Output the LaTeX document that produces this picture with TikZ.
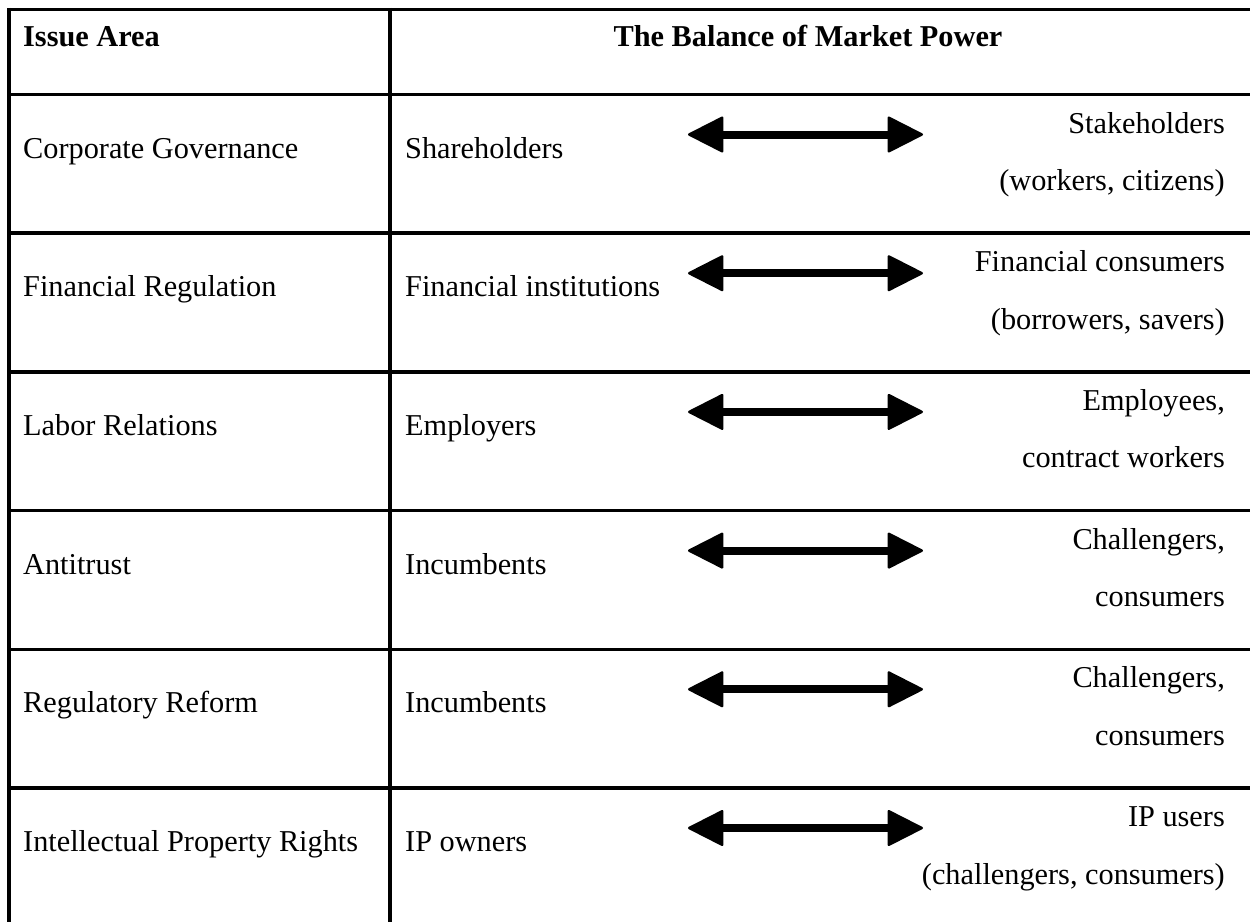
\documentclass[tikz,border=0pt]{standalone}
\usepackage{fontspec}
\setmainfont{Liberation Serif}
\usetikzlibrary{arrows.meta}
\newcommand{\mkrow}[6]{%
  \node[txt, anchor=base west] (area#1) at (23,#2+63.5) {#3};
  \node[txt, anchor=base west] (lft#1) at (405,#2+63.5) {#4};
  \node[txt, anchor=base east] (rta#1) at (1225,#2+38.5) {#5};
  \node[txt, anchor=base east] (rtb#1) at (1225,#2+96) {#6};
  \coordinate (al#1) at (688,#2+40);
  \coordinate (ar#1) at (923,#2+40);
  \draw[balance] (al#1) -- (ar#1);
}
\begin{document}
\begin{tikzpicture}[x=1pt,y=-1pt,
  grid/.style={line width=3.5pt, black},
  txt/.style={inner sep=0pt, font=\fontsize{30.3}{36}\selectfont},
  hdr/.style={inner sep=0pt, font=\fontsize{30.3}{36}\selectfont\bfseries},
  balance/.style={line width=8pt, {Triangle[length=37pt,width=37pt,round,line width=2.5pt]}-{Triangle[length=37pt,width=37pt,round,line width=2.5pt]}},
]
\useasboundingbox (0,0) rectangle (1250,922);
% grid
\foreach \yy in {9.5,94.5,233.2,371.9,510.6,649.3,788.0}
  \draw[grid] (7.25,\yy) -- (1250,\yy);
\draw[grid] (9,7.75) -- (9,922);
\draw[grid] (390,7.75) -- (390,922);
% header
\node[hdr, anchor=base west] (h1) at (23,46) {Issue Area};
\node[hdr, anchor=base] (h2) at (808,46) {The Balance of Market Power};
% rows
\mkrow{1}{94.5}{Corporate Governance}{Shareholders}{Stakeholders}{(workers, citizens)}
\mkrow{2}{233.2}{Financial Regulation}{Financial institutions}{Financial consumers}{(borrowers, savers)}
\mkrow{3}{371.9}{Labor Relations}{Employers}{Employees,}{contract workers}
\mkrow{4}{510.6}{Antitrust}{Incumbents}{Challengers,}{consumers}
\mkrow{5}{649.3}{Regulatory Reform}{Incumbents}{Challengers,}{consumers}
\mkrow{6}{788.0}{Intellectual Property Rights}{IP owners}{IP users}{(challengers, consumers)}
\end{tikzpicture}
\end{document}
